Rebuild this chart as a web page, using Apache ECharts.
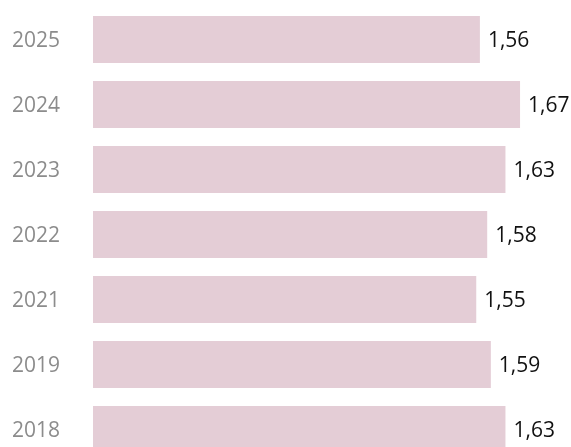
<!DOCTYPE html>
<html>
<head>
<meta charset="utf-8">
<script src="https://cdn.jsdelivr.net/npm/echarts@6/dist/echarts.min.js"></script>
<style>
  html, body { margin: 0; padding: 0; background: #fff; }
  #chart { width: 571px; height: 447px; }
</style>
</head>
<body>
<div id="chart"></div>
<script>
var years = ['2025', '2024', '2023', '2022', '2021', '2019', '2018'];
var values = [1.56, 1.67, 1.63, 1.58, 1.55, 1.59, 1.63];

var myChart = echarts.init(document.getElementById('chart'));
var option = {
    animation: false,
    grid: {
        left: 93,
        right: 40,
        top: 7,
        bottom: -15, // last bar runs off the bottom edge
        outerBoundsMode: 'none'
    },
    xAxis: {
        type: 'value',
        min: 0.5,
        max: 1.7,
        show: false
    },
    yAxis: {
        type: 'category',
        inverse: true,
        data: years,
        axisLine: { show: false },
        axisTick: { show: false },
        splitLine: { show: false },
        axisLabel: {
            margin: 33,
            formatter: function (v) { return '{y|' + v + '}'; },
            rich: {
                y: {
                    color: '#8c8c8c',
                    fontSize: 21,
                    fontFamily: 'Open Sans',
                    padding: [4, 0, 0, 0]
                }
            }
        }
    },
    series: [
        {
            type: 'bar',
            data: values,
            barWidth: 47,
            itemStyle: { color: '#e4cdd6' },
            label: {
                show: true,
                position: 'right',
                distance: 8,
                offset: [0, 2],
                color: '#111111',
                fontSize: 21,
                fontFamily: 'Open Sans',
                formatter: function (p) {
                    return p.value.toFixed(2).replace('.', ',');
                }
            }
        }
    ]
};
myChart.setOption(option);
</script>
</body>
</html>
